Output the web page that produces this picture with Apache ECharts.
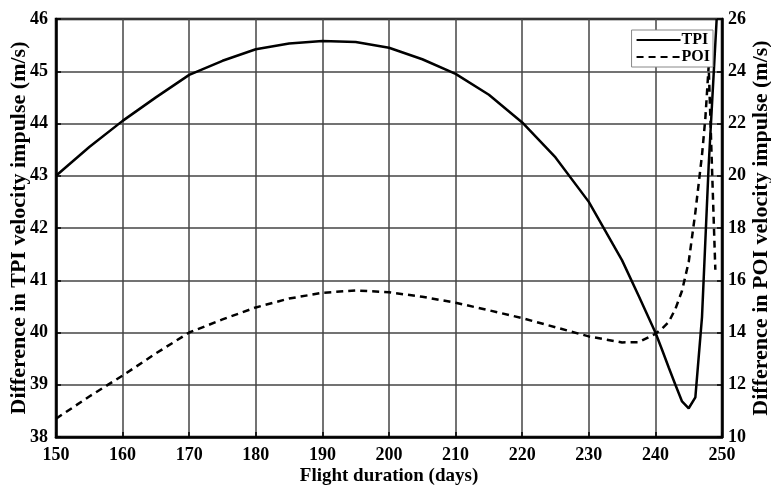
<!DOCTYPE html>
<html>
<head>
<meta charset="utf-8">
<script src="https://cdn.jsdelivr.net/npm/echarts@6/dist/echarts.min.js"></script>
<style>
  html, body { margin: 0; padding: 0; background: #fff; }
  #chart { width: 771px; height: 489px; }
</style>
</head>
<body>
<div id="chart"></div>
<script>
// values
const tpiDays = [150, 155, 160, 165, 170, 175, 180, 185, 190, 195, 200, 205, 210, 215, 220, 225, 230, 235, 237.5, 240, 241, 242, 243, 244, 245, 246, 247, 248, 249.2]
const tpiValues = [43.0, 43.55, 44.05, 44.5, 44.93, 45.2, 45.42, 45.53, 45.58, 45.56, 45.45, 45.23, 44.95, 44.55, 44.02, 43.35, 42.5, 41.38, 40.7, 40.0, 39.67, 39.33, 39.0, 38.68, 38.55, 38.76, 40.3, 43.2, 46.0]

const poiDays = [150, 155, 160, 165, 170, 175, 180, 185, 190, 195, 200, 205, 210, 215, 220, 225, 230, 235, 237.5, 240, 241, 242, 243, 244, 245, 246, 247, 247.5, 248, 249]
const poiValues = [10.7, 11.55, 12.35, 13.2, 14.0, 14.5, 14.96, 15.3, 15.52, 15.61, 15.54, 15.37, 15.14, 14.85, 14.55, 14.2, 13.85, 13.62, 13.63, 13.95, 14.15, 14.4, 14.9, 15.6, 16.7, 18.6, 20.8, 22.2, 24.2, 16.4]

const FONT = '"Liberation Serif", "Times New Roman", serif'

const zip = (xs, ys) => xs.map((x, i) => [x, ys[i]])

const chart = echarts.init(document.getElementById('chart'), null, { renderer: 'canvas' })

const axisLabel = { color: '#000', fontFamily: FONT, fontWeight: 'bold', fontSize: 18 }
const nameStyle = (size) => ({ color: '#000', fontFamily: FONT, fontWeight: 'bold', fontSize: size })
const tick = { show: true, inside: true, length: 5, lineStyle: { color: '#000', width: 1.5 } }
const grid = { show: true, lineStyle: { color: '#444', width: 1.5 } }

chart.setOption({
  animation: false,
  backgroundColor: '#fff',
  grid: {
    left: 56, right: 49, top: 19, bottom: 52,
    containLabel: false, outerBoundsMode: 'none',
    show: true, borderColor: '#000', borderWidth: 2.5, backgroundColor: 'transparent',
  },
  legend: {
    right: 58, top: 30,
    orient: 'vertical',
    itemWidth: 44, itemHeight: 13, itemGap: 1,
    padding: [2, 3, 2, 4],
    backgroundColor: '#fff',
    borderColor: '#888', borderWidth: 1, borderRadius: 0,
    itemStyle: { opacity: 0 },
    textStyle: { color: '#000', fontFamily: FONT, fontWeight: 'bold', fontSize: 16, padding: [0, 0, 0, -4] },
    data: ['TPI', 'POI'],
  },
  xAxis: {
    type: 'value', min: 150, max: 250, interval: 10,
    name: 'Flight duration (days)', nameLocation: 'middle', nameGap: 30, nameMoveOverlap: false,
    nameTextStyle: nameStyle(19),
    axisLine: { lineStyle: { color: '#000', width: 2.5 } },
    axisTick: tick,
    axisLabel: { ...axisLabel, margin: 9 },
    splitLine: grid,
  },
  yAxis: [
    {
      type: 'value', min: 38, max: 46, interval: 1, position: 'left',
      name: 'Difference in TPI velocity impulse (m/s)', nameLocation: 'middle', nameGap: 26, nameRotate: 90,
      nameMoveOverlap: false,
      nameTextStyle: nameStyle(22),
      axisLine: { show: true, lineStyle: { color: '#000', width: 2.5 } },
      axisTick: tick,
      axisLabel: { ...axisLabel, margin: 8 },
      splitLine: grid,
    },
    {
      type: 'value', min: 10, max: 26, interval: 2, position: 'right',
      name: 'Difference in POI velocity impulse (m/s)', nameLocation: 'middle', nameGap: 28, nameRotate: 90,
      nameMoveOverlap: false,
      nameTextStyle: nameStyle(22),
      axisLine: { show: true, lineStyle: { color: '#000', width: 2.5 } },
      axisTick: tick,
      axisLabel: { ...axisLabel, margin: 6 },
      splitLine: { show: false },
    },
  ],
  series: [
    {
      name: 'TPI', type: 'line', yAxisIndex: 0,
      data: zip(tpiDays, tpiValues),
      showSymbol: false, symbol: 'none',
      lineStyle: { color: '#000', width: 2.5 },
      itemStyle: { color: '#000' },
    },
    {
      name: 'POI', type: 'line', yAxisIndex: 1,
      data: zip(poiDays, poiValues),
      showSymbol: false, symbol: 'none',
      lineStyle: { color: '#000', width: 2.5, type: [7, 5] },
      itemStyle: { color: '#000' },
    },
  ],
})
</script>
</body>
</html>
